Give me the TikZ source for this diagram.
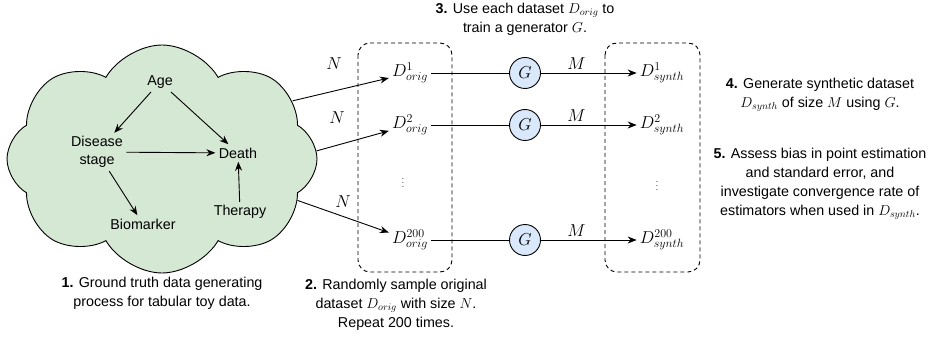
\documentclass[tikz,border=0pt]{standalone}
\usepackage{fontspec}
\setmainfont{Liberation Sans}
\usetikzlibrary{arrows.meta,shapes.symbols,positioning}
\definecolor{cloudgreen}{HTML}{D5E8D4}
\definecolor{genblue}{HTML}{DAE8FC}

\tikzset{
  var/.style={align=center, font=\fontsize{14.3}{18}\selectfont},
  edge/.style={-{Stealth[length=9pt,width=7pt]}, line width=0.9pt},
  link/.style={line width=0.9pt},
  gen/.style={circle, draw, line width=0.9pt, fill=genblue, minimum size=31pt, inner sep=0pt, font=\fontsize{16}{18}\selectfont},
  dset/.style={inner sep=3pt, font=\fontsize{17}{19}\selectfont},
  lbl/.style={font=\fontsize{16}{18}\selectfont, inner sep=1pt},
  note/.style={align=center, font=\fontsize{14.3}{19}\selectfont},
  dashbox/.style={rounded corners=12pt, line width=0.9pt, dash pattern=on 4pt off 3pt},
}

\begin{document}
\begin{tikzpicture}[x=1pt,y=-1pt]
  \useasboundingbox (0,0) rectangle (933,339);

  % the data generating process
  \node[cloud, draw, line width=0.9pt, fill=cloudgreen, cloud puffs=8, cloud puff arc=120, aspect=1.4,
        minimum width=310pt, minimum height=228pt] (cloud) at (162,159) {};
  \node[var] (age) at (160,82) {Age};
  \node[var] (stage) at (97,152) {Disease\\stage};
  \node[var] (death) at (238,153) {Death};
  \node[var] (bio) at (143,224) {Biomarker};
  \node[var] (ther) at (240,212) {Therapy};

  \draw[edge] (age) -- (stage);
  \draw[edge] (age) -- (death);
  \draw[edge] (stage) -- (death);
  \draw[edge] (stage) -- (bio);
  \draw[edge] (ther) -- (death);

  % sampled data sets
  \draw[dashbox] (358,43) rectangle (452,272);
  \node[dset] (o1) at (410,73) {$D^{1}_{orig}$};
  \node[dset] (o2) at (410,125) {$D^{2}_{orig}$};
  \node[lbl] (o3) at (403,180) {\fontsize{8}{9}\selectfont$\vdots$};
  \node[dset] (o4) at (410,240) {$D^{200}_{orig}$};

  \draw[edge] (cloud.24) -- (o1);
  \draw[edge] (cloud.3) -- (o2);
  \draw[edge] (cloud.-17) -- (o4);
  \node[lbl] (n1) at (334,64) {$N$};
  \node[lbl] (n2) at (337,118) {$N$};
  \node[lbl] (n3) at (343,202) {$N$};

  % generators
  \node[gen] (g1) at (525,73) {$G$};
  \node[gen] (g2) at (525,125) {$G$};
  \node[gen] (g4) at (525,240) {$G$};

  % synthetic data sets
  \draw[dashbox] (605,43) rectangle (700,272);
  \node[dset] (s1) at (662,73) {$D^{1}_{synth}$};
  \node[dset] (s2) at (662,125) {$D^{2}_{synth}$};
  \node[lbl] (s3) at (657,183) {\fontsize{8}{9}\selectfont$\vdots$};
  \node[dset] (s4) at (662,240) {$D^{200}_{synth}$};

  \draw[link] (o1) -- (g1);
  \draw[link] (o2) -- (g2);
  \draw[link] (o4) -- (g4);
  \draw[edge] (g1) -- (s1) node[lbl, pos=0.37, above=2pt] {$M$};
  \draw[edge] (g2) -- (s2) node[lbl, pos=0.37, above=2pt] {$M$};
  \draw[edge] (g4) -- (s4) node[lbl, pos=0.37, above=2pt] {$M$};

  % step notes
  \node[note] (t1) at (162,293) {\textbf{1.} Ground truth data generating\\process for tabular toy data.};
  \node[note] (t2) at (396,305) {\textbf{2.} Randomly sample original\\dataset $D_{orig}$ with size $N$.\\Repeat 200 times.};
  \node[note] (t3) at (525,19) {\textbf{3.} Use each dataset $D_{orig}$ to\\train a generator $G$.};
  \node[note] (t4) at (820,95) {\textbf{4.} Generate synthetic dataset\\$D_{synth}$ of size $M$ using $G$.};
  \node[note] (t5) at (820,184) {\textbf{5.} Assess bias in point estimation\\and standard error, and\\investigate convergence rate of\\estimators when used in $D_{synth}$.};
\end{tikzpicture}
\end{document}
